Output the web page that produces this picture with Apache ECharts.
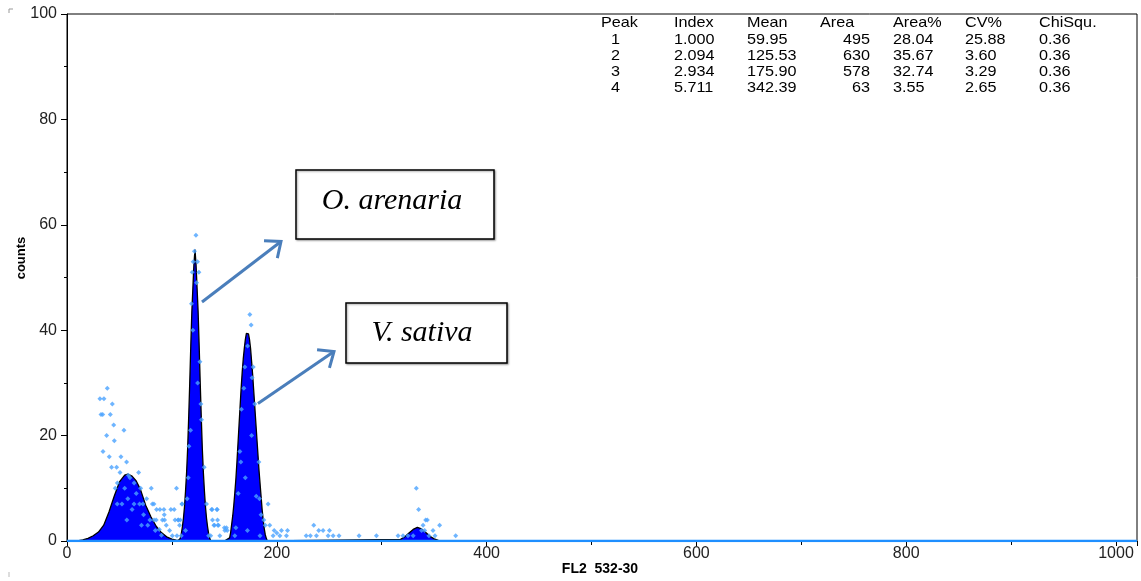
<!DOCTYPE html>
<html><head><meta charset="utf-8">
<script src="https://cdn.jsdelivr.net/npm/echarts/dist/echarts.min.js"></script>
<style>html,body{margin:0;padding:0;background:#fff}#c{width:1141px;height:581px}</style>
</head><body><div id="c"></div>
<script>
// fitted model curve (channel, counts)
const fitChannels = [0,10,15,20,25,30,35,40,45,50,55,58,62,66,70,75,80,85,90,95,100,104,106,
  108,109,110,111,112,113,114,115,116,117,118,119,120,121,122,123,124,125,126,127,128,129,130,131,132,133,134,135,136,137,138,140,
  150,155,156,157,158,159,160,161,162,163,164,165,166,167,168,169,170,171,172,173,174,175,176,177,178,179,180,181,182,183,184,185,186,187,188,189,190,191,193,
  318,322,326,330,334,338,342,346,350,354,358,362,1020];
const fitCounts = [0,0,0.2,0.5,1.0,1.7,3.0,5.5,8.5,11.2,12.5,12.7,12.3,11.4,9.8,6.8,4.6,2.8,1.6,0.8,0.35,0.15,0.1,
  0.5,1.4,2.7,4.3,6.5,9.5,13,17.5,23.5,30,37,43.5,48,52.5,55.3,52.5,48,43.5,37,30,23.5,17.5,13,9.5,6.5,4.3,2.7,1.4,0.5,0.1,0.02,
  0,0,0.6,1.6,3.2,4.8,6.8,9.2,11.8,15,18.5,22,25.5,29,32,34.5,36.5,38.2,39.4,39.7,39.3,38.2,36.5,34,31.5,28.5,25.5,22.5,19.5,16.5,13.5,11,8.5,6,4,2.4,1.2,0.5,0,
  0,0.3,0.8,1.5,2.2,2.6,2.3,1.6,0.9,0.4,0.1,0,0];
// raw histogram points (channel, counts)
const rawChannels = [38.4,31.4,35.2,43.2,32.4,34,41.3,44.5,54.3,37.8,45.1,34.3,40.3,51.4,56.8,42.5,47.3,50.5,68.3,46,70.2,80.3,104.4,75.9,47.9,52.4,63.9,69.2,72.4,81.4,85.4,88.6,92.4,99,102.2,92.7,83,85,91,93,103,106,94.6,107.3,97.8,84.2,100.4,104.8,108.9,82.9,109.5,60,64,55,58,62,66,57,73,77,79,71,88,90,48,58.5,
  122.9,120.3,124.4,119.4,125.7,118.7,126.7,127.6,128.2,117.8,116.2,130.8,115.6,114.6,109.8,133,138.4,142.9,106,108,140.6,143.8,121.5,123.5,120,124.5,113,135,137,
  174.3,175.5,172.1,169.5,177.5,168.6,176.5,166.3,179,164.8,165.7,182.9,163.2,180.4,183.5,191.7,187.6,193.3,161,150,152,137.8,143.2,138.7,143.5,140,144.4,150.5,152.7,197.5,204.4,210.2,196.5,202.9,209.2,145.7,185,189,184,170,176,172,160,200,
  235.2,240,244.1,250.2,237.8,248.9,253.7,259.3,278.4,295,315.6,320.3,325,333,335.2,341.9,343.5,339.4,355.2,338,341,348.9,350.8,370.5,330,345,228,232];
const rawCounts = [29,27,27,26,24,24,24,22,21,20,19,17,16,16,15,14,14,13,13,10,10,10,10,8,7,7,7,7,7,7,6,6,6,6,6,5,4,4,4,4,4,4,3,3,2,2,1,1,1,7,7,12,11,10,8,6,9,4,5,3,4,3,2.2,1.1,11,12.5,
  58,53,53,51,51,45,34,26,23,21,18,14,12,8,7,7,6,6,4,4,3,3,55,49,40,30,2,1,1,
  43,41,37,33,33,29,31,25,26,17,15,15,9,8.5,8,7,4,3,2.5,2.5,2.5,6,6,4,4,3,3,2,2,2,2,2,1,1,1,1,5,3,1,12,20,2,1,1.5,
  3,2,2,2,1,1,1,1,1,1,1,1,1,10,6,4,4,3,3,2,2,2,1,1,1,1,1,1];
const zeroChannels = [0,1020];
const zeroCounts = [0,0];

const xMin = 0, xMax = 1020, xStep = 200;
const yMin = 0, yMax = 100, yStep = 20;
const xName = 'FL2  532-30';
const yName = 'counts';

const tableHeader = ['Peak','Index','Mean','Area','Area%','CV%','ChiSqu.'];
const peakNo = ['1','2','3','4'];
const peakIndex = ['1.000','2.094','2.934','5.711'];
const peakMean = ['59.95','125.53','175.90','342.39'];
const peakArea = ['495','630','578','63'];
const peakAreaPct = ['28.04','35.67','32.74','3.55'];
const peakCV = ['25.88','3.60','3.29','2.65'];
const peakChi = ['0.36','0.36','0.36','0.36'];
const speciesLabels = ['O. arenaria','V. sativa'];

const chart = echarts.init(document.getElementById('c'), null, {renderer:'canvas'});
const zip = (a,b) => a.map((v,i)=>[v,b[i]]);

const FONT = '"Liberation Sans", Arial, sans-serif';
const graphics = [];
// table
const colX = [601,674,747,820,893,965,1039];
const rowY = [23,39.5,55.7,71.9,88.1];
function tText(x,y,t,align){
  graphics.push({type:'text', x:x, y:y, scaleX:1.08, z:50,
    style:{text:t, x:0, y:0, fill:'#000', font:'15px '+FONT, textAlign:align||'left', textVerticalAlign:'middle'}});
}
tableHeader.forEach((h,i)=>tText(colX[i],rowY[0],h));
for(let r=0;r<4;r++){
  tText(611,rowY[r+1],peakNo[r]);
  tText(674,rowY[r+1],peakIndex[r]);
  tText(747,rowY[r+1],peakMean[r]);
  tText(870,rowY[r+1],peakArea[r],'right');
  tText(893,rowY[r+1],peakAreaPct[r]);
  tText(965,rowY[r+1],peakCV[r]);
  tText(1039,rowY[r+1],peakChi[r]);
}
// annotation boxes
function box(x,y,w,h,t,cx,cy){
  graphics.push({type:'rect', z:40, shape:{x:x,y:y,width:w,height:h},
    style:{fill:'#fff', stroke:'#000', lineWidth:1.5, shadowBlur:2, shadowColor:'rgba(0,0,0,0.35)', shadowOffsetX:1, shadowOffsetY:1}});
  graphics.push({type:'text', z:41, x:cx, y:cy,
    style:{text:t, x:0, y:0, fill:'#000', font:'italic 30px "Liberation Serif", "Times New Roman", serif', textAlign:'center', textVerticalAlign:'middle'}});
}
box(296,170,198,69,speciesLabels[0],392,201);
box(346,303,161,60,speciesLabels[1],422,333);
// arrows
function arrow(x1,y1,x2,y2){
  const col = '#4a7ebb';
  graphics.push({type:'line', z:42, shape:{x1:x1,y1:y1,x2:x2,y2:y2}, style:{stroke:col, lineWidth:3}});
  const ang = Math.atan2(y2-y1,x2-x1), L = 17, a = 0.7;
  const p1 = [x2 - L*Math.cos(ang-a), y2 - L*Math.sin(ang-a)];
  const p2 = [x2 - L*Math.cos(ang+a), y2 - L*Math.sin(ang+a)];
  graphics.push({type:'polyline', z:42, shape:{points:[p1,[x2,y2],p2]}, style:{stroke:col, lineWidth:3, fill:null, lineJoin:'miter'}});
}
arrow(202,302,281,241.5);
arrow(258,403.5,334,351.5);
// axis names
graphics.push({type:'text', z:30, x:21, y:258, rotation:Math.PI/2,
  style:{text:yName, x:0, y:0, fill:'#000', font:'bold 13px '+FONT, textAlign:'center', textVerticalAlign:'middle'}});
graphics.push({type:'text', z:30, x:600, y:569,
  style:{text:xName, x:0, y:0, fill:'#000', font:'bold 14px '+FONT, textAlign:'center', textVerticalAlign:'middle'}});
// corner marks
graphics.push({type:'polyline', shape:{points:[[9,13],[9,9],[13,9]]}, style:{stroke:'#999', lineWidth:1, fill:null}});
graphics.push({type:'line', shape:{x1:9,y1:572,x2:9,y2:577}, style:{stroke:'#bbb', lineWidth:1}});

const option = {
  animation:false,
  backgroundColor:'#fff',
  grid:{left:67, right:4, top:14, bottom:40, show:true, borderColor:'#000', borderWidth:1, containLabel:false},
  xAxis:{type:'value', min:xMin, max:xMax, interval:xStep,
    axisLine:{show:true, onZero:false, lineStyle:{color:'#000', width:1}},
    axisTick:{show:true, length:5, lineStyle:{color:'#000'}},
    minorTick:{show:true, splitNumber:2, length:4, lineStyle:{color:'#000'}},
    splitLine:{show:false},
    axisLabel:{fontSize:16, color:'#222', fontFamily:FONT, margin:5, showMaxLabel:false, formatter:(v)=>String(v)}},
  yAxis:{type:'value', min:yMin, max:yMax, interval:yStep,
    axisLine:{show:true, lineStyle:{color:'#000', width:1}},
    axisTick:{show:true, length:6, lineStyle:{color:'#000'}},
    minorTick:{show:true, splitNumber:2, length:3, lineStyle:{color:'#000'}},
    splitLine:{show:false},
    axisLabel:{fontSize:16, color:'#222', fontFamily:FONT, margin:10, formatter:(v)=>String(v)}},
  series:[
    {type:'line', data:zip(fitChannels,fitCounts), symbol:'none', z:2,
      lineStyle:{color:'#000', width:1.3}, areaStyle:{color:'#0000ff', opacity:1}},
    {type:'line', data:zip(zeroChannels,zeroCounts), symbol:'none', z:3,
      lineStyle:{color:'#1f8fff', width:2.5}},
    {type:'scatter', data:zip(rawChannels,rawCounts), symbol:'diamond', symbolSize:5, z:4,
      itemStyle:{color:'#4aa3ff'}}
  ],
  graphic:graphics
};
chart.setOption(option);
</script></body></html>
